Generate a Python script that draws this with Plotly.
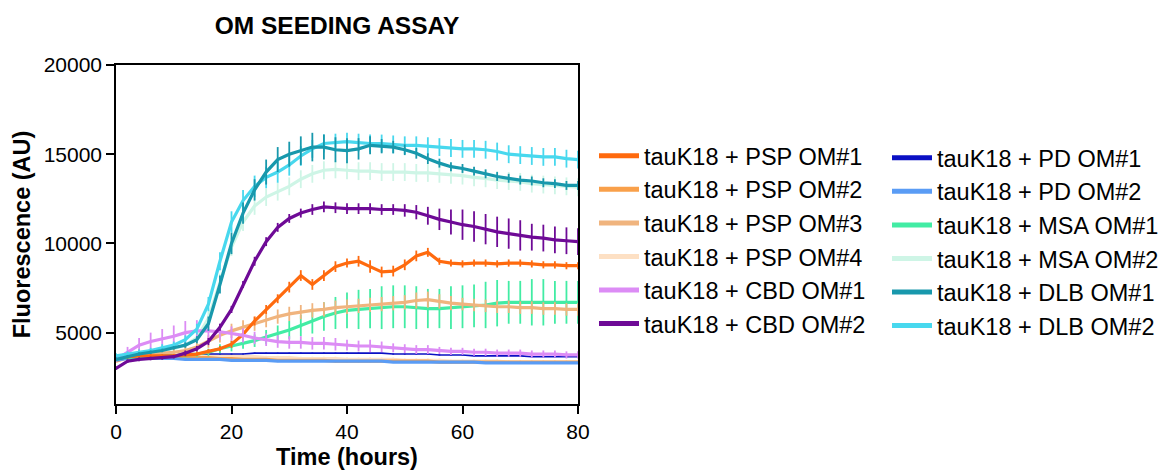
import plotly.graph_objects as go

# Sampling times (hours)
time_h = [0, 2, 4, 6, 8, 10, 12, 14, 16, 18, 20, 22, 24, 26, 28, 30, 32, 34, 36, 38, 40,
          42, 44, 46, 48, 50, 52, 54, 56, 58, 60, 62, 64, 66, 68, 70, 72, 74, 76, 78, 80]

# Mean ThT fluorescence (AU) per seed
psp1 = [3600, 3650, 3700, 3700, 3700, 3700, 3750, 3800, 3950, 4100, 4350, 4900, 5650, 6300, 6900, 7550, 8200, 7700, 8200, 8700, 8900,
        9000, 8700, 8400, 8450, 8800, 9300, 9500, 9000, 8900, 8850, 8900, 8900, 8850, 8900, 8900, 8850, 8800, 8800, 8750, 8750]
psp2 = [3400, 3600, 3650, 3650, 3650, 3650, 3600, 3600, 3600, 3550, 3550, 3500, 3500, 3500, 3450, 3450, 3450, 3450, 3450, 3400, 3400,
        3400, 3400, 3400, 3400, 3400, 3400, 3400, 3350, 3350, 3350, 3350, 3350, 3350, 3350, 3350, 3350, 3350, 3350, 3350, 3350]
psp3 = [3600, 3750, 3850, 3850, 3850, 3900, 4000, 4200, 4500, 4850, 5100, 5300, 5500, 5700, 5900, 6050, 6150, 6250, 6300, 6400, 6450,
        6500, 6550, 6600, 6650, 6700, 6800, 6850, 6750, 6650, 6600, 6550, 6500, 6450, 6450, 6400, 6400, 6350, 6350, 6300, 6300]
psp4 = [3500, 3700, 3800, 3800, 3800, 3800, 3800, 3750, 3750, 3700, 3700, 3650, 3650, 3600, 3600, 3600, 3550, 3550, 3550, 3550, 3500,
        3500, 3500, 3500, 3500, 3450, 3450, 3450, 3450, 3400, 3400, 3400, 3400, 3400, 3350, 3350, 3350, 3350, 3350, 3350, 3350]
cbd1 = [3500, 3900, 4300, 4500, 4650, 4800, 5000, 5100, 5100, 5050, 4950, 4850, 4700, 4600, 4500, 4450, 4450, 4400, 4400, 4350, 4300,
        4250, 4250, 4200, 4150, 4100, 4050, 4050, 4000, 3950, 3950, 3900, 3900, 3850, 3850, 3850, 3800, 3800, 3800, 3750, 3750]
cbd2 = [3000, 3400, 3500, 3550, 3580, 3650, 3850, 4100, 4500, 5300, 6300, 7700, 9000, 10100, 10900, 11400, 11700, 11900, 12050, 12000, 11950,
        11950, 11950, 11900, 11900, 11850, 11750, 11550, 11350, 11200, 11050, 10950, 10800, 10650, 10550, 10450, 10350, 10300, 10200, 10150, 10100]
pd1 = [3500, 3600, 3650, 3700, 3750, 3750, 3800, 3800, 3800, 3800, 3800, 3800, 3850, 3850, 3850, 3850, 3850, 3850, 3850, 3850, 3850,
       3850, 3850, 3850, 3800, 3800, 3800, 3800, 3750, 3750, 3750, 3700, 3700, 3700, 3700, 3700, 3650, 3650, 3650, 3650, 3650]
pd2 = [3450, 3550, 3550, 3550, 3550, 3550, 3500, 3500, 3500, 3500, 3450, 3450, 3450, 3450, 3400, 3400, 3400, 3400, 3400, 3400, 3400,
       3400, 3400, 3400, 3350, 3350, 3350, 3350, 3350, 3350, 3350, 3350, 3300, 3300, 3300, 3300, 3300, 3300, 3300, 3300, 3300]
msa1 = [3600, 3600, 3650, 3650, 3700, 3700, 3750, 3800, 3900, 4100, 4250, 4400, 4550, 4750, 4950, 5150, 5400, 5650, 5900, 6100, 6250,
        6300, 6350, 6400, 6450, 6450, 6400, 6350, 6350, 6400, 6450, 6500, 6550, 6650, 6700, 6700, 6700, 6700, 6700, 6700, 6700]
msa2 = [3600, 3700, 3800, 3900, 4000, 4100, 4300, 4700, 5800, 7800, 9800, 11200, 12100, 12600, 12900, 13200, 13600, 13900, 14100, 14150, 14100,
        14050, 14050, 14000, 14000, 14000, 13950, 13950, 13900, 13850, 13800, 13700, 13650, 13550, 13500, 13450, 13350, 13300, 13250, 13200, 13150]
dlb1 = [3500, 3650, 3800, 3900, 4000, 4150, 4300, 4600, 5500, 7700, 10000, 11700, 13000, 14000, 14700, 15000, 15200, 15400, 15400, 15250, 15200,
        15300, 15500, 15450, 15400, 15250, 15050, 14750, 14500, 14300, 14200, 14050, 13900, 13750, 13650, 13550, 13500, 13400, 13350, 13250, 13250]
dlb2 = [3700, 3800, 3900, 4000, 4150, 4300, 4600, 5200, 6600, 9000, 11200, 12400, 13200, 13700, 14000, 14400, 14900, 15300, 15600, 15650, 15700,
        15650, 15600, 15600, 15550, 15500, 15500, 15450, 15400, 15350, 15300, 15300, 15250, 15150, 15000, 14950, 14900, 14850, 14850, 14750, 14700]

# Standard deviation (AU) per seed
psp1_sd = [100, 100, 100, 100, 100, 100, 100, 100, 120, 150, 200, 250, 250, 250, 250, 300, 300, 300, 300, 300, 250,
           300, 350, 300, 300, 300, 300, 250, 200, 200, 200, 200, 200, 200, 200, 200, 200, 200, 200, 200, 200]
psp2_sd = [60, 60, 60, 60, 60, 60, 60, 60, 60, 60, 60, 60, 60, 60, 60, 60, 60, 60, 60, 60, 60,
           60, 60, 60, 60, 60, 60, 60, 60, 60, 60, 60, 60, 60, 60, 60, 60, 60, 60, 60, 60]
psp3_sd = [150, 200, 250, 250, 250, 300, 300, 350, 350, 400, 400, 400, 400, 400, 400, 400, 400, 400, 400, 400, 400,
           400, 400, 400, 400, 400, 450, 450, 400, 400, 350, 350, 350, 350, 350, 350, 350, 350, 350, 350, 350]
psp4_sd = [100, 100, 100, 100, 100, 100, 100, 100, 100, 100, 100, 100, 100, 100, 100, 100, 100, 100, 100, 100, 100,
           100, 100, 100, 100, 100, 100, 100, 100, 100, 100, 100, 100, 100, 100, 100, 100, 100, 100, 100, 100]
cbd1_sd = [150, 300, 400, 500, 550, 600, 650, 600, 550, 450, 400, 400, 350, 350, 350, 350, 350, 350, 350, 350, 300,
           300, 350, 300, 250, 250, 250, 250, 200, 200, 200, 200, 200, 200, 200, 200, 200, 200, 200, 200, 200]
cbd2_sd = [100, 100, 100, 100, 100, 100, 150, 150, 200, 200, 200, 200, 250, 250, 250, 250, 250, 300, 300, 300, 300,
           300, 300, 300, 300, 350, 400, 500, 600, 700, 850, 850, 850, 850, 850, 850, 750, 750, 750, 750, 750]
pd1_sd = [30, 30, 30, 30, 30, 30, 30, 30, 30, 30, 30, 30, 30, 30, 30, 30, 30, 30, 30, 30, 30,
          30, 30, 30, 30, 30, 30, 30, 30, 30, 30, 30, 30, 30, 30, 30, 30, 30, 30, 30, 30]
pd2_sd = [50, 50, 50, 50, 50, 50, 50, 50, 50, 50, 50, 50, 50, 50, 50, 50, 50, 50, 50, 50, 50,
          50, 50, 50, 50, 50, 50, 50, 50, 50, 50, 50, 50, 50, 50, 50, 50, 50, 50, 50, 50]
msa1_sd = [150, 150, 150, 150, 150, 150, 150, 150, 200, 250, 300, 300, 350, 400, 450, 500, 600, 700, 800, 900, 1000,
           1100, 1100, 1200, 1200, 1200, 1200, 1100, 1100, 1200, 1200, 1200, 1300, 1300, 1200, 1200, 1300, 1300, 1200, 1200, 1200]
msa2_sd = [150, 150, 150, 150, 150, 150, 200, 300, 400, 500, 500, 500, 500, 500, 500, 500, 500, 500, 500, 500, 500,
           500, 500, 500, 500, 500, 500, 500, 500, 500, 500, 500, 500, 500, 500, 500, 500, 500, 500, 500, 500]
dlb1_sd = [100, 100, 100, 100, 100, 100, 150, 200, 400, 500, 600, 600, 600, 700, 700, 700, 800, 800, 700, 700, 700,
           600, 500, 400, 350, 300, 300, 300, 250, 250, 250, 250, 250, 250, 250, 250, 250, 250, 250, 250, 250]
dlb2_sd = [150, 150, 150, 150, 200, 200, 250, 300, 400, 500, 600, 600, 600, 600, 600, 600, 550, 500, 500, 500, 500,
           500, 500, 500, 500, 500, 500, 500, 500, 500, 500, 500, 500, 500, 500, 500, 500, 500, 500, 500, 500]

series_names = ["tauK18 + PSP OM#1", "tauK18 + PSP OM#2", "tauK18 + PSP OM#3", "tauK18 + PSP OM#4",
                "tauK18 + CBD OM#1", "tauK18 + CBD OM#2", "tauK18 + PD OM#1", "tauK18 + PD OM#2",
                "tauK18 + MSA OM#1", "tauK18 + MSA OM#2", "tauK18 + DLB OM#1", "tauK18 + DLB OM#2"]
series_colors = ["#ff6a0e", "#f9a04a", "#f0b47e", "#fde0c4",
                 "#dc8cf5", "#6e0a96", "#0a10c4", "#5a9cf5",
                 "#42eca4", "#cef5e6", "#1898ac", "#48d8ee"]
series_means = [psp1, psp2, psp3, psp4, cbd1, cbd2, pd1, pd2, msa1, msa2, dlb1, dlb2]
series_sds = [psp1_sd, psp2_sd, psp3_sd, psp4_sd, cbd1_sd, cbd2_sd, pd1_sd, pd2_sd,
              msa1_sd, msa2_sd, dlb1_sd, dlb2_sd]

x_ticks = [0, 20, 40, 60, 80]
y_ticks = [5000, 10000, 15000, 20000]
y_tick_text = ["5000", "10000", "15000", "20000"]

# back-to-front drawing order (indices into the lists above)
draw_order = [3, 1, 7, 6, 9, 8, 2, 0, 4, 11, 10, 5]

FONT = "Liberation Sans, Arial, sans-serif"
fig = go.Figure()

for i in draw_order:
    fig.add_trace(go.Scatter(
        x=time_h, y=series_means[i], mode="lines", name=series_names[i],
        line=dict(color=series_colors[i], width=1.6 if i == 6 else 3.2),
        error_y=dict(type="data", array=series_sds[i], width=0, thickness=1.8,
                     color=series_colors[i]),
        showlegend=False, hoverinfo="x+y+name"))

# legend entries (two columns)
for i, name in enumerate(series_names):
    fig.add_trace(go.Scatter(
        x=[None], y=[None], mode="lines", name=name,
        line=dict(color=series_colors[i], width=5),
        legend="legend" if i < 6 else "legend2"))

legend_common = dict(font=dict(family=FONT, size=23.5, color="black"),
                     bgcolor="rgba(0,0,0,0)", borderwidth=0, itemwidth=40,
                     xref="container", yref="container", xanchor="left", yanchor="top",
                     traceorder="normal", itemclick=False, itemdoubleclick=False)

fig.update_layout(
    width=1172, height=470,
    margin=dict(l=116, r=594, t=65, b=66, autoexpand=False),
    paper_bgcolor="white", plot_bgcolor="white",
    font=dict(family=FONT, color="black"),
    title=dict(text="<b>OM SEEDING ASSAY</b>", x=337 / 1172, xanchor="center",
               xref="container", y=1 - 25 / 470, yanchor="middle", yref="container",
               font=dict(family=FONT, size=24.5, color="black")),
    legend=dict(x=594 / 1172, y=1 - 134 / 470, **legend_common),
    legend2=dict(x=887 / 1172, y=1 - 136 / 470, **legend_common),
    xaxis=dict(range=[0, 80], tickvals=x_ticks, ticks="outside", ticklen=8,
               tickwidth=1.5, tickcolor="black", showline=True, linecolor="black",
               linewidth=1.5, mirror=True, showgrid=False, zeroline=False,
               tickfont=dict(family=FONT, size=21, color="black"),
               title=dict(text="<b>Time (hours)</b>", standoff=8,
                          font=dict(family=FONT, size=23.5, color="black"))),
    yaxis=dict(range=[1000, 20000], tickvals=y_ticks, ticktext=y_tick_text, ticks="outside",
               ticklen=8, tickwidth=1.5, tickcolor="black", showline=True,
               linecolor="black", linewidth=1.5, mirror=True, showgrid=False,
               zeroline=False, tickfont=dict(family=FONT, size=21, color="black"),
               title=dict(text="<b>Fluorescence (AU)</b>", standoff=6,
                          font=dict(family=FONT, size=23.5, color="black"))),
)

fig.write_html("out.html")
